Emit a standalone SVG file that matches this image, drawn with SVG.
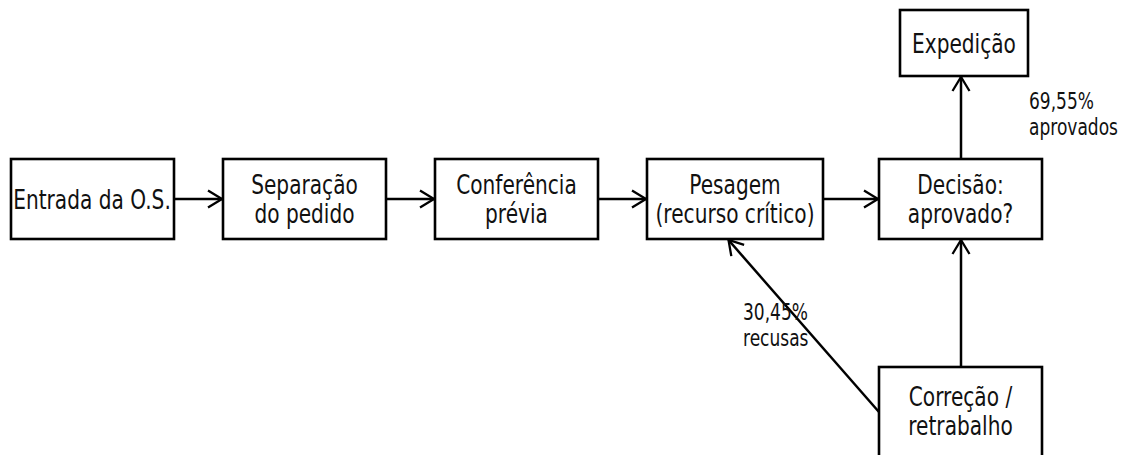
<svg xmlns="http://www.w3.org/2000/svg" width="1130" height="455" viewBox="0 0 1130 455">
<style>
.box{fill:#fff;stroke:#000;stroke-width:2.6}
.t{font-family:"DejaVu Sans","Liberation Sans",sans-serif;font-size:27px;fill:#111;text-anchor:middle}
.l{font-family:"DejaVu Sans","Liberation Sans",sans-serif;font-size:22.5px;fill:#111;text-anchor:start}
.c{fill:none;stroke:#000;stroke-width:2.5;marker-end:url(#ah)}
</style>
<defs>
<marker id="ah" viewBox="-17 -11 20 22" refX="0" refY="0" markerWidth="20" markerHeight="22" markerUnits="userSpaceOnUse" orient="auto">
<path d="M-14,-8.5 L0,0 L-14,8.5" fill="none" stroke="#000" stroke-width="2.3"/>
</marker>
</defs>
<rect width="1130" height="455" fill="#fff"/>
<g id="connectors">
<line class="c" x1="174" y1="199" x2="222" y2="199"/>
<line class="c" x1="386" y1="199" x2="434" y2="199"/>
<line class="c" x1="598" y1="199" x2="646" y2="199"/>
<line class="c" x1="823" y1="199" x2="878" y2="199"/>
<line class="c" x1="961" y1="159" x2="961" y2="77"/>
<line class="c" x1="961" y1="367" x2="961" y2="240"/>
<line class="c" x1="879" y1="412" x2="728.5" y2="240"/>
</g>
<g id="n1"><rect class="box" x="11" y="159" width="163" height="80"/>
<text class="t" transform="translate(92,209) scale(0.746,1)">Entrada da O.S.</text></g>
<g id="n2"><rect class="box" x="223" y="159" width="163" height="80"/>
<text class="t" transform="translate(304.5,194) scale(0.746,1)">Separação</text>
<text class="t" transform="translate(304.5,223) scale(0.746,1)">do pedido</text></g>
<g id="n3"><rect class="box" x="435" y="159" width="163" height="80"/>
<text class="t" transform="translate(516.5,194) scale(0.746,1)">Conferência</text>
<text class="t" transform="translate(516.5,223) scale(0.746,1)">prévia</text></g>
<g id="n4"><rect class="box" x="647" y="159" width="176" height="80"/>
<text class="t" transform="translate(735,194) scale(0.746,1)">Pesagem</text>
<text class="t" transform="translate(735,223) scale(0.746,1)">(recurso crítico)</text></g>
<g id="n5"><rect class="box" x="879" y="159" width="163" height="80"/>
<text class="t" transform="translate(960.5,194) scale(0.746,1)">Decisão:</text>
<text class="t" transform="translate(960.5,223) scale(0.746,1)">aprovado?</text></g>
<g id="n6"><rect class="box" x="900" y="10" width="128" height="66"/>
<text class="t" transform="translate(964,53) scale(0.746,1)">Expedição</text></g>
<g id="n7"><rect class="box" x="879" y="367" width="163" height="92"/>
<text class="t" transform="translate(960.5,406) scale(0.746,1)">Correção /</text>
<text class="t" transform="translate(960.5,435) scale(0.746,1)">retrabalho</text></g>
<g id="labels">
<text class="l" transform="translate(1029,109) scale(0.758,1)">69,55%</text>
<text class="l" transform="translate(1029,135) scale(0.758,1)">aprovados</text>
<text class="l" transform="translate(743,320) scale(0.758,1)">30,45%</text>
<text class="l" transform="translate(743,346) scale(0.758,1)">recusas</text>
</g>
</svg>
